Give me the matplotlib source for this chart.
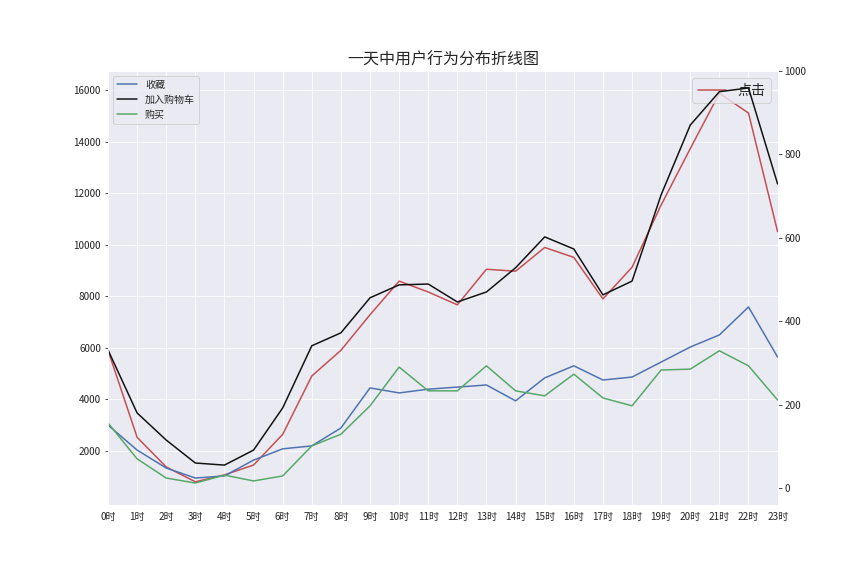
import matplotlib.pyplot as plt
import seaborn as sns

sns.set_style('darkgrid')
plt.rcParams['font.family'] = ['Noto Sans CJK SC']
plt.rcParams['axes.unicode_minus'] = False

hours = [f'{h}时' for h in range(24)]
click = [5907, 2532, 1381, 806, 1074, 1457, 2647, 4910, 5907, 7288, 8592, 8170,
         7672, 9053, 8976, 9897, 9513, 7902, 9130, 11546, 13732, 15880, 15113, 10510]
cart = [331, 180, 115, 60, 55, 91, 192, 341, 372, 456, 487, 489,
        446, 470, 528, 602, 573, 463, 496, 703, 870, 950, 959, 729]
fav = [151, 91, 48, 24, 29, 67, 94, 101, 144, 240, 228, 237,
       242, 247, 209, 264, 293, 259, 266, 302, 338, 367, 434, 314]
buy = [156, 70, 24, 12, 31, 17, 29, 101, 129, 197, 290, 233,
       233, 293, 233, 221, 273, 216, 197, 283, 285, 329, 293, 211]

fig, ax = plt.subplots(figsize=(12, 8), dpi=72)
fig.subplots_adjust(bottom=0.123, top=0.877)
x = list(range(24))
ax.plot(x, click, color='#c44e52', label='点击')
ax.set_ylim(-100, 16750)
ax.set_yticks(range(2000, 16001, 2000))
ax.set_xlim(0, 23)
ax.set_xticks(x)
ax.set_xticklabels(hours)
ax.legend(loc='upper right', fontsize=14)

ax2 = ax.twinx()
ax2.plot(x, fav, color='#4c72b0', label='收藏')
ax2.plot(x, cart, color='#111111', label='加入购物车')
ax2.plot(x, buy, color='#55a868', label='购买')
ax2.set_ylim(-41, 1000)
ax2.grid(False)
ax2.legend(loc='upper left')

ax.set_title('一天中用户行为分布折线图', fontsize=16)
fig.savefig('out.png')
